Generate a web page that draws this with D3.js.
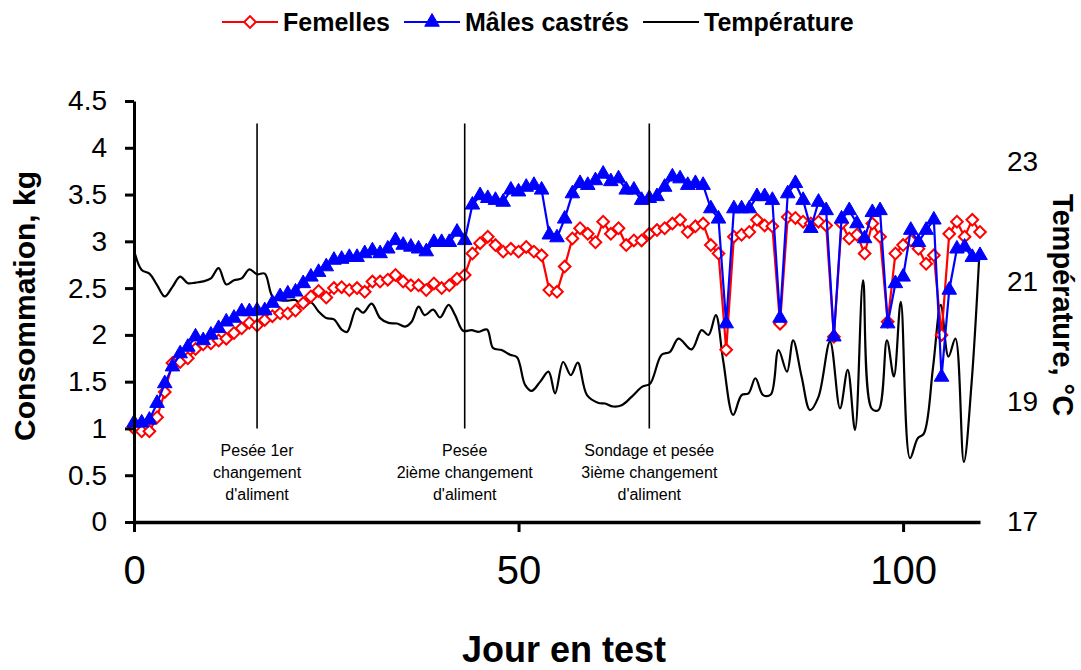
<!DOCTYPE html>
<html>
<head>
<meta charset="utf-8">
<script src="https://cdn.jsdelivr.net/npm/d3@7"></script>
<style>
  body { margin: 0; background: #fff; }
  svg { display: block; font-family: Arial, "Liberation Sans", sans-serif; }
</style>
</head>
<body>
<svg id="chart" width="1081" height="670"></svg>
<script>
// consommation journaliere (kg), jour 0 a 110
var femelles = [1.00,0.97,0.97,1.12,1.39,1.70,1.71,1.75,1.85,1.90,
  1.91,1.94,1.96,2.02,2.07,2.13,2.10,2.16,2.20,2.23,
  2.23,2.26,2.34,2.41,2.47,2.40,2.50,2.51,2.48,2.50,
  2.46,2.57,2.57,2.59,2.64,2.57,2.53,2.53,2.48,2.55,
  2.50,2.53,2.60,2.64,2.87,2.98,3.05,2.96,2.89,2.92,
  2.89,2.94,2.89,2.85,2.48,2.46,2.73,3.03,3.14,3.08,
  2.99,3.21,3.08,3.14,2.96,3.01,3.01,3.08,3.12,3.14,
  3.19,3.23,3.10,3.16,3.19,2.96,2.87,1.84,3.05,3.07,
  3.10,3.23,3.17,3.16,2.12,3.26,3.25,3.21,3.19,3.21,
  3.17,1.98,3.19,3.03,3.07,2.87,3.19,3.05,2.14,2.87,
  2.96,3.01,2.92,2.76,2.85,2.00,3.08,3.21,3.05,3.23,3.10];

var males = [1.06,1.06,1.09,1.27,1.48,1.66,1.80,1.87,1.98,1.94,
  2.00,2.07,2.14,2.18,2.25,2.25,2.26,2.26,2.34,2.41,
  2.44,2.46,2.55,2.62,2.67,2.73,2.80,2.81,2.83,2.83,
  2.87,2.90,2.87,2.92,3.01,2.96,2.94,2.92,2.89,2.99,
  2.99,2.99,3.10,3.01,3.39,3.49,3.46,3.44,3.42,3.55,
  3.53,3.58,3.60,3.55,3.07,3.04,3.24,3.51,3.62,3.60,
  3.65,3.72,3.64,3.67,3.55,3.55,3.44,3.46,3.48,3.58,
  3.69,3.67,3.60,3.62,3.60,3.35,3.24,2.12,3.35,3.35,
  3.35,3.48,3.48,3.44,2.18,3.51,3.62,3.44,3.14,3.42,
  3.33,1.98,3.24,3.33,3.19,3.03,3.31,3.33,2.12,2.55,
  2.62,3.12,2.99,3.12,3.23,1.55,2.48,2.92,2.94,2.83,2.85];

// temperature (°C), releves
var tempDays = [0,1,2,3,4,5,6,7,8,9,10,11,12,13,14,15,16,17,18,19,20,21,22,23,24,25,26,27,
  27.7,28.95,29.8,30.9,32,33.1,34.2,35.25,36.1,37,37.8,38.9,39.8,40.9,41.75,42.8,43.9,44.8,45.9,
  46.7,47.8,48.9,49.8,50.85,51.7,52.8,53.9,54.75,55.8,56.8,57.7,58.9,60.4,61.25,62.3,63.4,64.7,
  66.1,67.1,68.6,69.7,70.8,72.5,73.8,74.7,75.65,76.6,77.9,79,79.9,80.8,81.8,82.8,83.8,84.9,85.7,
  86.8,87.9,89,90.5,91.8,92.8,93.75,94.8,95.9,96.8,97.9,98.8,99.7,100.9,101.9,102.7,103.9,104.9,
  105.9,106.8,107.9,108.9,109.9];
var tempVals = [21.52,21.19,21.13,20.94,20.75,20.91,21.08,20.97,20.98,21.0,21.05,21.22,20.95,21.02,
  21.05,21.2,21.12,21.13,20.75,20.69,20.68,20.69,20.57,20.65,20.5,20.39,20.37,20.2,
  20.16,20.55,20.48,20.63,20.39,20.31,20.30,20.25,20.33,20.58,20.44,20.53,20.40,20.61,20.44,20.18,
  20.19,20.16,20.20,19.89,19.86,19.78,19.74,19.28,19.18,19.33,19.50,19.14,19.66,19.44,19.65,19.11,
  18.98,18.97,18.92,18.94,19.08,19.25,19.30,19.78,19.83,20.05,19.87,20.19,20.11,20.44,19.69,18.78,
  19.11,19.14,19.39,19.11,19.12,19.86,19.5,20.02,19.42,18.86,19.08,20.0,18.89,19.53,18.53,21.02,
  18.89,18.86,20.02,19.42,20.66,18.06,18.39,18.47,19.58,20.61,19.75,20.05,18.0,19.30,21.41];

var leftTicks = [0,0.5,1,1.5,2,2.5,3,3.5,4,4.5];
var rightTicks = [17,19,21,23];
var xTicks = [0,50,100];

// evenements (lignes verticales + notes)
var eventDays = [16, 43, 67];
var eventTop = 4.26, eventBottom = 1.0;
var eventLabels = [
  ["Pesée 1er", "changement", "d'aliment"],
  ["Pesée", "2ième changement", "d'aliment"],
  ["Sondage et pesée", "3ième changement", "d'aliment"]
];

var seriesNames = ["Femelles", "Mâles castrés", "Température"];

var svg = d3.select("#chart");
svg.append("rect").attr("width", 1081).attr("height", 670).attr("fill", "#fff");

var x = d3.scaleLinear().domain([0, 110]).range([134, 980]);
var yL = d3.scaleLinear().domain([0, 4.5]).range([522, 101]);
var yR = d3.scaleLinear().domain([17, 24]).range([522, 101]);

var days = d3.range(femelles.length);

// temperature (axe secondaire)
var tLine = d3.line()
  .x(function(d, i) { return x(tempDays[i]); })
  .y(function(d) { return yR(d); })
  .curve(d3.curveCatmullRom);
svg.append("path").datum(tempVals)
  .attr("d", tLine)
  .attr("fill", "none").attr("stroke", "#000").attr("stroke-width", 2.2);

var cLine = d3.line()
  .x(function(d, i) { return x(days[i]); })
  .y(function(d) { return yL(d); });

// femelles
svg.append("path").datum(femelles).attr("d", cLine)
  .attr("fill", "none").attr("stroke", "#ff0000").attr("stroke-width", 2.2);
var diamond = d3.symbol().type(d3.symbolSquare).size(68);
svg.append("g").selectAll("path").data(femelles).enter().append("path")
  .attr("d", diamond)
  .attr("transform", function(d, i) { return "translate(" + x(days[i]) + "," + yL(d) + ") rotate(45)"; })
  .attr("fill", "#fff").attr("stroke", "#ff0000").attr("stroke-width", 2);

// males castres
svg.append("path").datum(males).attr("d", cLine)
  .attr("fill", "none").attr("stroke", "#0000ff").attr("stroke-width", 2.2);
var tri = d3.symbol().type(d3.symbolTriangle).size(92);
svg.append("g").selectAll("path").data(males).enter().append("path")
  .attr("d", tri)
  .attr("transform", function(d, i) { return "translate(" + x(days[i]) + "," + yL(d) + ")"; })
  .attr("fill", "#0000ff").attr("stroke", "#0000ff").attr("stroke-width", 1);

// lignes verticales
svg.append("g").selectAll("line").data(eventDays).enter().append("line")
  .attr("x1", function(d) { return x(d); }).attr("x2", function(d) { return x(d); })
  .attr("y1", yL(eventTop)).attr("y2", yL(eventBottom))
  .attr("stroke", "#000").attr("stroke-width", 1.6);

var notes = svg.append("g").attr("font-size", 16).attr("fill", "#000").attr("text-anchor", "middle");
eventLabels.forEach(function(lines, k) {
  var t = notes.append("text").attr("x", x(eventDays[k])).attr("y", 456);
  lines.forEach(function(s, j) {
    t.append("tspan").attr("x", x(eventDays[k])).attr("dy", j === 0 ? 0 : 22).text(s);
  });
});

// axes
var axL = svg.append("g").attr("transform", "translate(134,0)")
  .call(d3.axisLeft(yL).tickValues(leftTicks).tickSize(9).tickSizeOuter(0).tickPadding(18)
    .tickFormat(function(d) { return String(d); }));
axL.select(".domain").attr("stroke-width", 3);
axL.selectAll(".tick line").attr("stroke-width", 3);
axL.selectAll(".tick text").attr("font-size", 28).attr("font-family", null);

var axX = svg.append("g").attr("transform", "translate(0,522)")
  .call(d3.axisBottom(x).tickValues(xTicks).tickSize(10).tickSizeOuter(0).tickPadding(24));
axX.select(".domain").attr("stroke-width", 3.5);
axX.selectAll(".tick line").attr("stroke-width", 3);
axX.selectAll(".tick text").attr("font-size", 40).attr("font-family", null);

var axR = svg.append("g").attr("transform", "translate(980,0)")
  .call(d3.axisRight(yR).tickValues(rightTicks).tickSize(0).tickPadding(27)
    .tickFormat(function(d) { return String(d); }));
axR.select(".domain").remove();
axR.selectAll(".tick text").attr("font-size", 28).attr("font-family", null);
svg.selectAll(".tick text").attr("fill", "#000");

// titres
svg.append("text").attr("transform", "translate(35,306) rotate(-90)")
  .attr("text-anchor", "middle").attr("font-weight", "bold").attr("font-size", 30)
  .text("Consommation, kg");
svg.append("text").attr("transform", "translate(1053,305) rotate(90)")
  .attr("text-anchor", "middle").attr("font-weight", "bold").attr("font-size", 29)
  .text("Température, °C");
svg.append("text").attr("x", 564).attr("y", 662)
  .attr("text-anchor", "middle").attr("font-weight", "bold").attr("font-size", 36)
  .text("Jour en test");

// legende
var leg = svg.append("g").attr("font-weight", "bold").attr("font-size", 25);
var colors = ["#ff0000", "#0000ff", "#000"];
var lx = 222, ly = 22;
seriesNames.forEach(function(name, k) {
  leg.append("line").attr("x1", lx).attr("x2", lx + 56).attr("y1", ly).attr("y2", ly)
    .attr("stroke", colors[k]).attr("stroke-width", 2.2);
  if (k === 0) {
    leg.append("path").attr("d", diamond)
      .attr("transform", "translate(" + (lx + 28) + "," + ly + ") rotate(45)")
      .attr("fill", "#fff").attr("stroke", colors[k]).attr("stroke-width", 2);
  } else if (k === 1) {
    leg.append("path").attr("d", tri)
      .attr("transform", "translate(" + (lx + 28) + "," + ly + ")")
      .attr("fill", colors[k]).attr("stroke", colors[k]);
  }
  var t = leg.append("text").attr("x", lx + 61).attr("y", ly + 9).text(name);
  lx = lx + 61 + t.node().getComputedTextLength() + 14;
});
</script>
</body>
</html>
